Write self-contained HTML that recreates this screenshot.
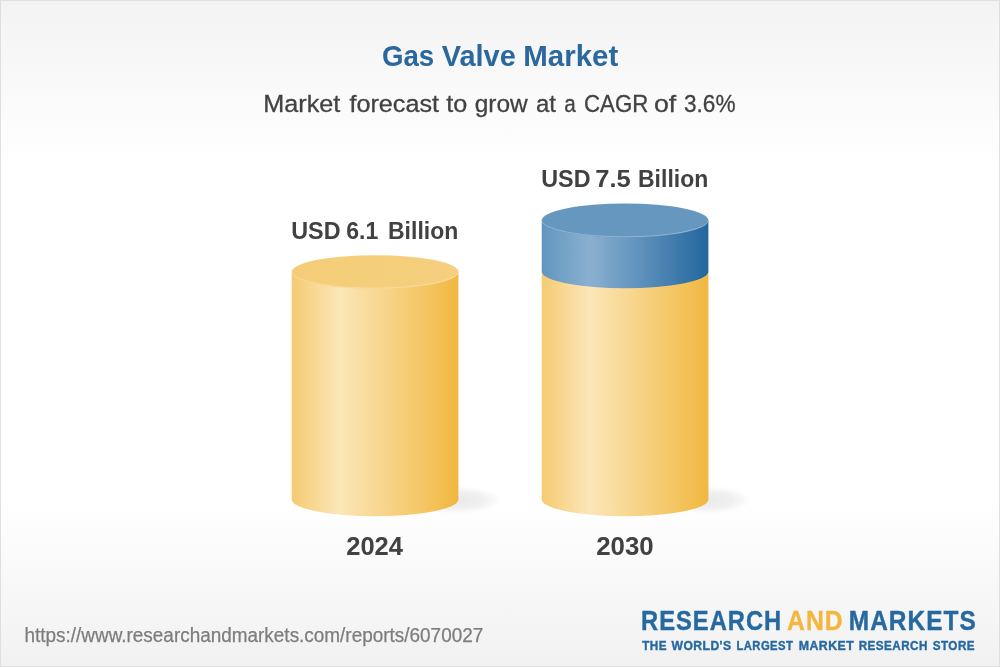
<!DOCTYPE html>
<html lang="en">
<head>
<meta charset="utf-8">
<title>Gas Valve Market</title>
<style>
  html, body { margin: 0; padding: 0; background: #ffffff; }
  body { width: 1000px; height: 667px; overflow: hidden; }
  svg { display: block; }
  text { font-family: "Liberation Sans", Arial, sans-serif; white-space: pre; }
</style>
</head>
<body>
<svg width="1000" height="667" viewBox="0 0 1000 667">
  <defs>
    <linearGradient id="bg" x1="0" y1="0" x2="0" y2="1">
      <stop offset="0" stop-color="#f3f3f3"/>
      <stop offset="0.245" stop-color="#ffffff"/>
      <stop offset="0.755" stop-color="#ffffff"/>
      <stop offset="1" stop-color="#f1f1f1"/>
    </linearGradient>
    <linearGradient id="ybody" x1="0" y1="0" x2="1" y2="0">
      <stop offset="0" stop-color="#f5cb72"/>
      <stop offset="0.29" stop-color="#fbe6b8"/>
      <stop offset="1" stop-color="#f1b840"/>
    </linearGradient>
    <linearGradient id="ytop" x1="0" y1="0" x2="1" y2="0">
      <stop offset="0" stop-color="#f5cd78"/>
      <stop offset="1" stop-color="#f5cf7e"/>
    </linearGradient>
    <linearGradient id="bbody" x1="0" y1="0" x2="1" y2="0">
      <stop offset="0" stop-color="#6296bf"/>
      <stop offset="0.29" stop-color="#8ab0d0"/>
      <stop offset="1" stop-color="#22679f"/>
    </linearGradient>
    <radialGradient id="shd" cx="0.5" cy="0.5" r="0.5">
      <stop offset="0" stop-color="#000" stop-opacity="0.085"/>
      <stop offset="0.6" stop-color="#000" stop-opacity="0.06"/>
      <stop offset="1" stop-color="#000" stop-opacity="0"/>
    </radialGradient>
    <filter id="blur" x="-50%" y="-100%" width="200%" height="300%">
      <feGaussianBlur stdDeviation="1.5"/>
    </filter>
  </defs>

  <rect x="0" y="0" width="1000" height="667" fill="url(#bg)"/>
  <rect x="0.5" y="0.5" width="999" height="666" fill="none" stroke="#dfdfdf" stroke-width="1"/>

  <!-- shadows -->
  <ellipse cx="457" cy="500" rx="44" ry="13.5" fill="url(#shd)" filter="url(#blur)"/>
  <ellipse cx="707" cy="500" rx="44" ry="13.5" fill="url(#shd)" filter="url(#blur)"/>

  <!-- left cylinder -->
  <path d="M291.7 272 L291.7 500 A83.4 16.8 0 0 0 458.4 500 L458.4 272 Z" fill="url(#ybody)"/>
  <ellipse cx="375.1" cy="272" rx="83.4" ry="16.8" fill="url(#ytop)"/>
  <path d="M291.7 272 A83.4 16.8 0 0 0 458.4 272" fill="none" stroke="#fff" stroke-opacity="0.35" stroke-width="0.8"/>

  <!-- right cylinder -->
  <path d="M541.7 272 L541.7 500 A83.4 16.8 0 0 0 708.4 500 L708.4 272 Z" fill="url(#ybody)"/>
  <path d="M541.7 220.6 L541.7 272 A83.4 16.8 0 0 0 708.4 272 L708.4 220.6 Z" fill="url(#bbody)"/>
  <ellipse cx="625.05" cy="220.5" rx="83.35" ry="17" fill="#6597bf"/>
  <path d="M541.7 220.6 A83.4 16.8 0 0 0 708.4 220.6" fill="none" stroke="#fff" stroke-opacity="0.35" stroke-width="0.8"/>

  <text y="66.2" font-size="29.4" font-weight="700" fill="#2a689e"><tspan x="382.00" textLength="52.25" lengthAdjust="spacingAndGlyphs">Gas</tspan> <tspan x="441.75" textLength="74.00" lengthAdjust="spacingAndGlyphs">Valve</tspan> <tspan x="523.25" textLength="95.00" lengthAdjust="spacingAndGlyphs">Market</tspan></text>
  <text y="111.5" font-size="24.1" font-weight="400" fill="#424244" stroke="#424244" stroke-width="0.3" stroke-linejoin="round"><tspan x="263.25" textLength="77.00" lengthAdjust="spacingAndGlyphs">Market</tspan> <tspan x="349.50" textLength="89.50" lengthAdjust="spacingAndGlyphs">forecast</tspan> <tspan x="446.25" textLength="21.00" lengthAdjust="spacingAndGlyphs">to</tspan> <tspan x="474.75" textLength="53.00" lengthAdjust="spacingAndGlyphs">grow</tspan> <tspan x="536.00" textLength="20.00" lengthAdjust="spacingAndGlyphs">at</tspan> <tspan x="564.25" textLength="11.50" lengthAdjust="spacingAndGlyphs">a</tspan> <tspan x="584.00" textLength="64.25" lengthAdjust="spacingAndGlyphs">CAGR</tspan> <tspan x="654.00" textLength="22.25" lengthAdjust="spacingAndGlyphs">of</tspan> <tspan x="684.00" textLength="51.50" lengthAdjust="spacingAndGlyphs">3.6%</tspan></text>
  <text y="238.8" font-size="23.8" font-weight="700" fill="#414042"><tspan x="291.25" textLength="49.25" lengthAdjust="spacingAndGlyphs">USD</tspan> <tspan x="346.25" textLength="32.00" lengthAdjust="spacingAndGlyphs">6.1</tspan> <tspan x="388.00" textLength="70.25" lengthAdjust="spacingAndGlyphs">Billion</tspan></text>
  <text y="186.8" font-size="23.8" font-weight="700" fill="#414042"><tspan x="541.25" textLength="49.25" lengthAdjust="spacingAndGlyphs">USD</tspan> <tspan x="595.25" textLength="35.50" lengthAdjust="spacingAndGlyphs">7.5</tspan> <tspan x="638.00" textLength="70.25" lengthAdjust="spacingAndGlyphs">Billion</tspan></text>
  <text y="554.9" font-size="25.4" font-weight="700" fill="#414042"><tspan x="346.25" textLength="56.75" lengthAdjust="spacingAndGlyphs">2024</tspan></text>
  <text y="554.9" font-size="25.4" font-weight="700" fill="#414042"><tspan x="596.25" textLength="57.50" lengthAdjust="spacingAndGlyphs">2030</tspan></text>
  <text y="641.9" font-size="19.4" font-weight="400" fill="#7d7d7d" stroke="#7d7d7d" stroke-width="0.25" stroke-linejoin="round"><tspan x="24.50" textLength="458.75" lengthAdjust="spacingAndGlyphs">https://www.researchandmarkets.com/reports/6070027</tspan></text>
  <text y="629.8" font-size="28.1" font-weight="700" fill="#2669a0" letter-spacing="1.2" stroke="#2669a0" stroke-width="0.4" stroke-linejoin="round"><tspan x="641.00" textLength="141.25" lengthAdjust="spacingAndGlyphs">RESEARCH</tspan> <tspan x="787.00" textLength="56.75" lengthAdjust="spacingAndGlyphs" fill="#f4b63f" stroke="#f4b63f">AND</tspan> <tspan x="848.75" textLength="128.00" lengthAdjust="spacingAndGlyphs">MARKETS</tspan></text>
  <text y="649.7" font-size="13.4" font-weight="700" fill="#2669a0" letter-spacing="0.5" stroke="#2669a0" stroke-width="0.4" stroke-linejoin="round"><tspan x="642.25" textLength="24.75" lengthAdjust="spacingAndGlyphs">THE</tspan> <tspan x="671.50" textLength="60.00" lengthAdjust="spacingAndGlyphs">WORLD'S</tspan> <tspan x="736.50" textLength="56.75" lengthAdjust="spacingAndGlyphs">LARGEST</tspan> <tspan x="798.75" textLength="55.50" lengthAdjust="spacingAndGlyphs">MARKET</tspan> <tspan x="858.75" textLength="69.00" lengthAdjust="spacingAndGlyphs">RESEARCH</tspan> <tspan x="932.75" textLength="42.25" lengthAdjust="spacingAndGlyphs">STORE</tspan></text>
</svg>
</body>
</html>
